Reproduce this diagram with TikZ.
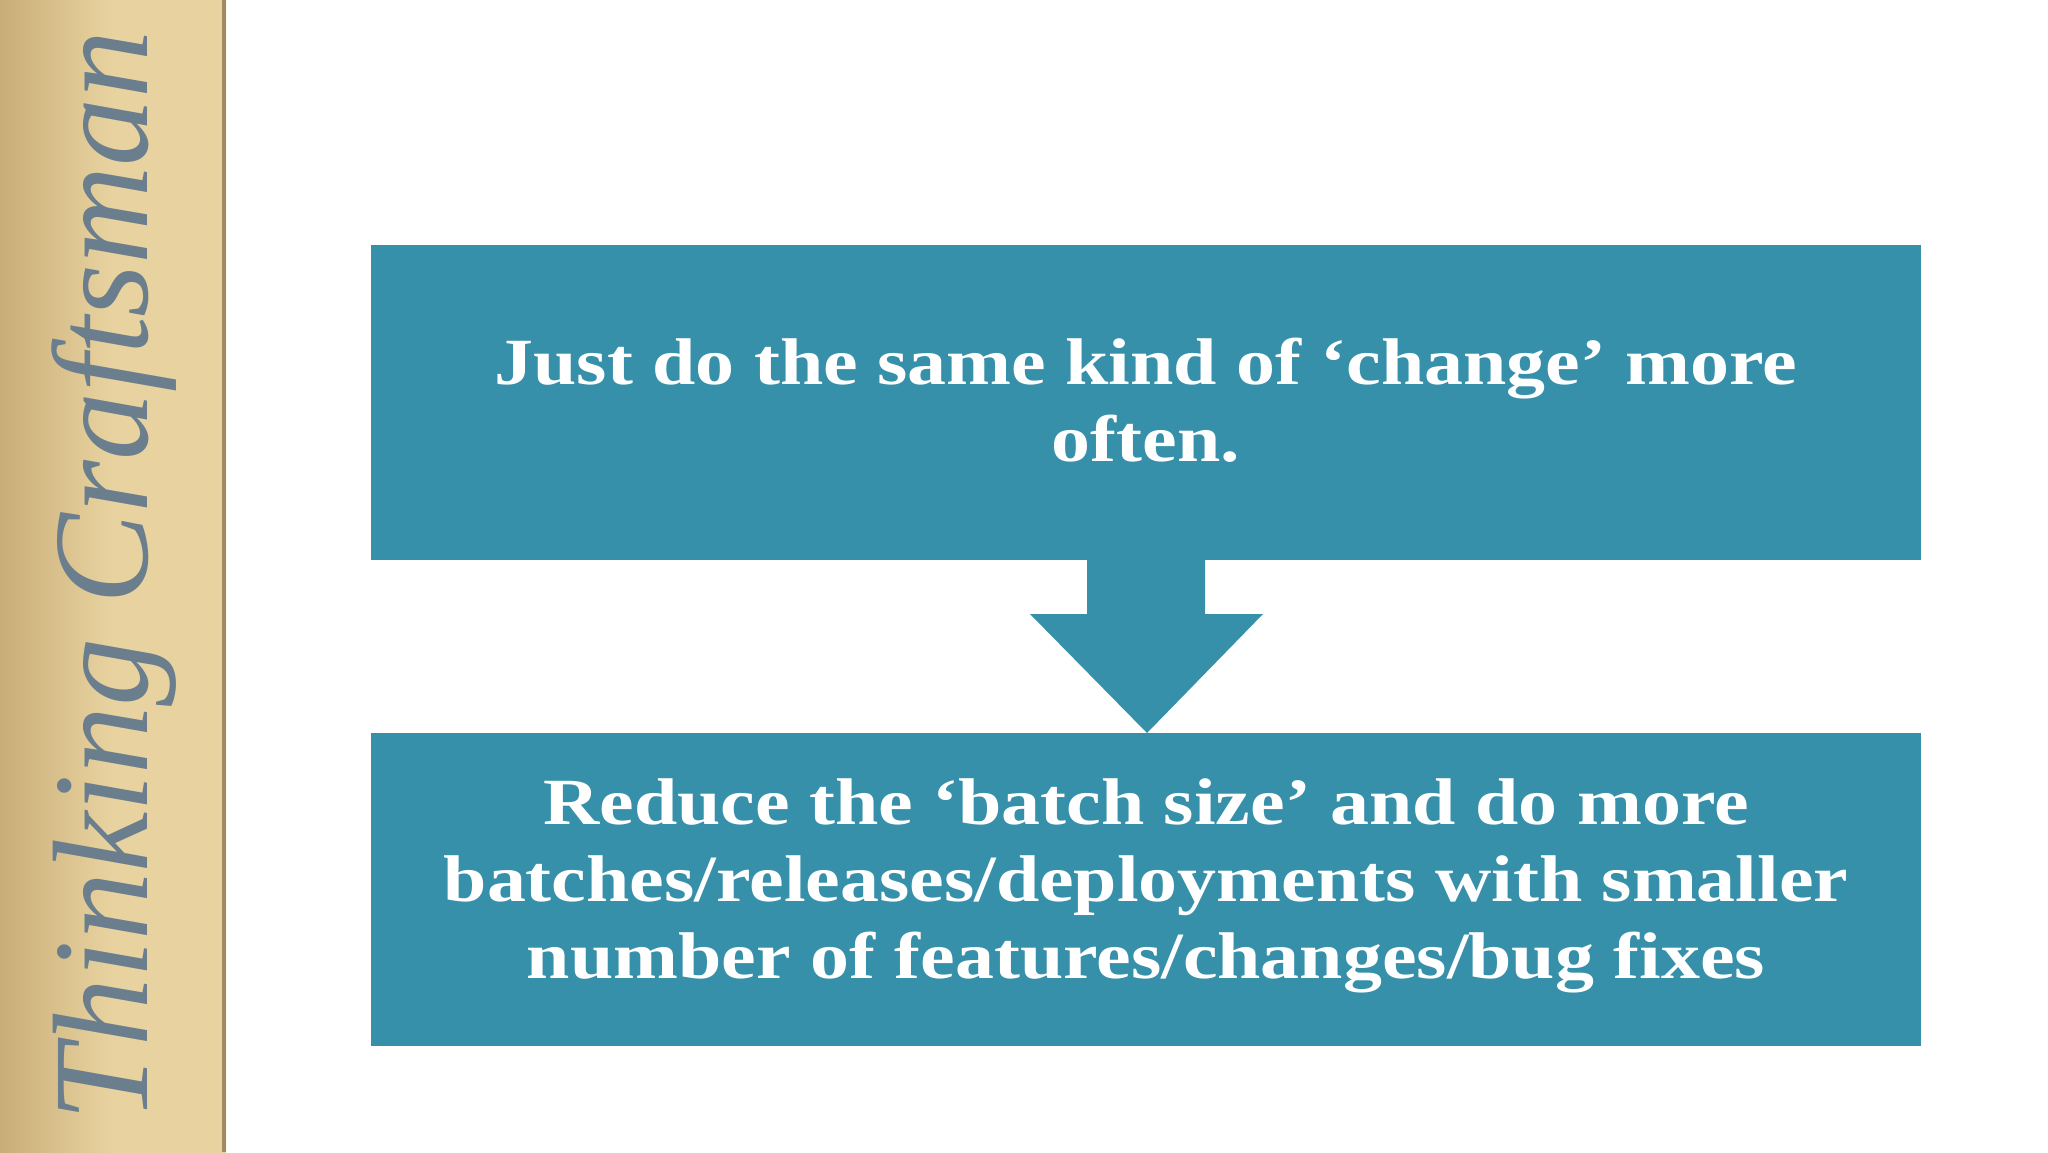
\documentclass[tikz,border=0pt]{standalone}
\usepackage{fontspec}
\setmainfont{Liberation Serif}
\newfontfamily\boxfont[FakeStretch=1.18]{Liberation Serif}
\definecolor{teal1}{HTML}{3790A9}
\definecolor{tanL}{HTML}{E8D3A0}
\definecolor{tanD}{HTML}{C9AD78}
\definecolor{logo}{HTML}{6A7E8E}
\begin{document}
\begin{tikzpicture}[x=0.5pt,y=-0.5pt,
  boxst/.style={fill=teal1,draw=none},
  txt/.style={text=white,font=\boxfont\bfseries\fontsize{33}{38.5}\selectfont,align=center}]
\useasboundingbox (0,0) rectangle (2048,1152);
\fill[white] (0,0) rectangle (2048,1152);
\shade[left color=tanD,right color=tanL,middle color=tanL] (0,0) rectangle (226,1152);
\fill[tanD!80!black] (222,0) rectangle (226,1152);
\node[rotate=90,text=logo,font=\itshape\fontsize{68}{72}\selectfont,anchor=center] (logo) at (114,576) {Thinking Craftsman};
\fill[boxst] (371,245) rectangle (1921,560);
\node[txt] (t1) at (1146,400) {Just do the same kind of ‘change’ more\\often.};
\fill[boxst] (1087,560) -- (1087,614) -- (1030,614) -- (1147,733) -- (1263,614) -- (1205,614) -- (1205,560) -- cycle;
\fill[boxst] (371,733) rectangle (1921,1046);
\node[txt] (t2) at (1146,886) {Reduce the ‘batch size’ and do more\\batches/releases/deployments with smaller\\number of features/changes/bug fixes};
\end{tikzpicture}
\end{document}
